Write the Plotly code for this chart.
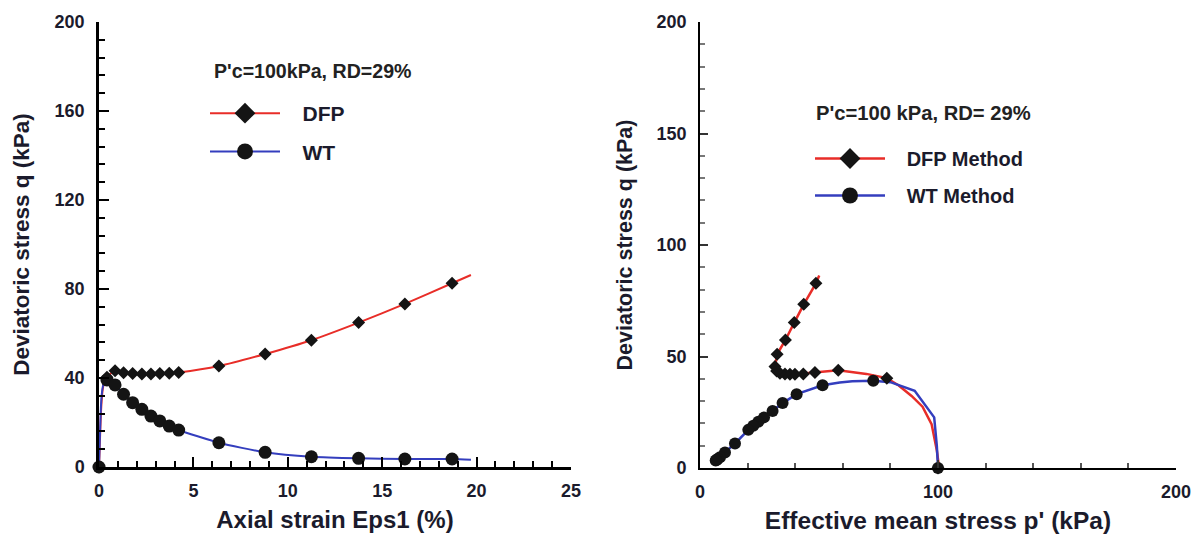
import plotly.graph_objects as go

# ---------------- Data: left panel (q vs axial strain) ----------------
strain_markers = [0, 0.42, 0.85, 1.3, 1.78, 2.27, 2.75, 3.22, 3.72, 4.22,
                  6.35, 8.8, 11.25, 13.75, 16.2, 18.7]
q_dfp_markers = [0, 40.3, 43.3, 42.4, 42.0, 41.8, 41.8, 42.0, 42.1, 42.5,
                 45.4, 50.8, 57.0, 64.9, 73.3, 82.6]
q_wt_markers = [0, 39.1, 36.9, 32.7, 28.9, 25.9, 22.9, 20.7, 18.4, 16.6,
                10.9, 6.6, 4.6, 3.9, 3.6, 3.6]

strain_curve = [0, 0.05, 0.12, 0.2, 0.3, 0.42, 0.85, 1.3, 1.78, 2.27, 2.75,
                3.22, 3.72, 4.22, 6.35, 8.8, 11.25, 13.75, 16.2, 18.7, 19.7]
q_dfp_curve = [0, 12, 27, 35, 38.8, 40.3, 43.3, 42.4, 42.0, 41.8, 41.8,
               42.0, 42.1, 42.5, 45.4, 50.8, 57.0, 64.9, 73.3, 82.6, 86.3]
q_wt_curve = [0, 14, 30, 36, 38.6, 39.1, 36.9, 32.7, 28.9, 25.9, 22.9,
              20.7, 18.4, 16.6, 10.9, 6.6, 4.6, 3.9, 3.6, 3.6, 3.3]

# ---------------- Data: right panel (q vs p') ----------------
p_dfp_markers = [100, 78.5, 58.1, 48.3, 43.4, 39.9, 37.8, 35.7, 33.6, 32.2,
                 31.5, 32.4, 35.9, 39.6, 43.6, 48.7]
qr_dfp_markers = [0, 40.3, 43.8, 42.8, 42.1, 42.0, 42.0, 42.1, 42.5, 43.5,
                  45.5, 51.0, 57.4, 65.2, 73.4, 82.8]
p_dfp_curve = [100.5, 99.5, 97.3, 93.5, 88.9, 83.5, 78.5, 69.9, 58.1, 48.3,
               43.4, 39.9, 37.8, 35.7, 33.6, 32.2, 31.5, 32.4, 35.9, 39.6,
               43.6, 48.7, 50.1]
qr_dfp_curve = [0, 8, 19.7, 27.5, 32.3, 37.0, 40.3, 42.2, 43.8, 42.8,
                42.1, 42.0, 42.0, 42.1, 42.5, 43.5, 45.5, 51.0, 57.4, 65.2,
                73.4, 82.8, 86.3]

p_wt_markers = [100, 72.8, 51.5, 40.6, 34.7, 30.5, 26.9, 24.5, 22.4, 20.3,
                14.7, 10.5, 8.4, 7.4, 6.9, 6.6]
qr_wt_markers = [0, 39.1, 37.1, 33.1, 29.1, 25.6, 22.7, 20.7, 18.9, 17.1,
                 11.0, 7.0, 4.8, 4.0, 3.6, 3.4]
p_wt_curve = [100, 99.5, 98.4, 90.2, 80.0, 72.8, 64.0, 58.7, 51.5, 40.6,
              34.7, 30.5, 26.9, 24.5, 22.4, 20.3, 14.7, 10.5, 8.4, 7.4,
              6.9, 6.6]
qr_wt_curve = [0, 10, 22.7, 34.6, 38.5, 39.1, 38.9, 38.3, 37.1, 33.1,
               29.1, 25.6, 22.7, 20.7, 18.9, 17.1, 11.0, 7.0, 4.8, 4.0,
               3.6, 3.4]

# ---------------- Text ----------------
left_caption = "P'c=100kPa, RD=29%"
right_caption = "P'c=100 kPa, RD= 29%"
left_names = ["DFP", "WT"]
right_names = ["DFP Method", "WT Method"]

RED = "rgb(232,45,40)"
BLUE = "rgb(52,62,190)"
MK = "#141414"
FONT = "Liberation Sans"
TXT = "#1b1b2c"
NB = "\u00a0\u00a0\u00a0"

fig = go.Figure()

# left panel curves
fig.add_trace(go.Scatter(x=strain_curve, y=q_dfp_curve, mode="lines",
                         line=dict(color=RED, width=2, shape="spline", smoothing=0.6),
                         showlegend=False, xaxis="x", yaxis="y", hoverinfo="skip"))
fig.add_trace(go.Scatter(x=strain_curve, y=q_wt_curve, mode="lines",
                         line=dict(color=BLUE, width=2, shape="spline", smoothing=0.6),
                         showlegend=False, xaxis="x", yaxis="y", hoverinfo="skip"))
fig.add_trace(go.Scatter(x=strain_markers, y=q_dfp_markers, mode="markers",
                         marker=dict(symbol="diamond", size=10, color=MK),
                         showlegend=False, xaxis="x", yaxis="y", cliponaxis=False))
fig.add_trace(go.Scatter(x=strain_markers, y=q_wt_markers, mode="markers",
                         marker=dict(symbol="circle", size=13, color=MK),
                         showlegend=False, xaxis="x", yaxis="y", cliponaxis=False))
# left legend entries
fig.add_trace(go.Scatter(x=[None], y=[None], mode="lines+markers",
                         name=NB + "<b>" + left_names[0] + "</b>",
                         line=dict(color=RED, width=2),
                         marker=dict(symbol="diamond", size=16, color=MK),
                         legend="legend", legendgroup="a", xaxis="x", yaxis="y"))
fig.add_trace(go.Scatter(x=[None], y=[None], mode="lines+markers",
                         name=NB + "<b>" + left_names[1] + "</b>",
                         line=dict(color=BLUE, width=2),
                         marker=dict(symbol="circle", size=16, color=MK),
                         legend="legend", legendgroup="b", xaxis="x", yaxis="y"))

# right panel curves
fig.add_trace(go.Scatter(x=p_dfp_curve, y=qr_dfp_curve, mode="lines",
                         line=dict(color=RED, width=2.5),
                         showlegend=False, xaxis="x2", yaxis="y2", hoverinfo="skip"))
fig.add_trace(go.Scatter(x=p_wt_curve, y=qr_wt_curve, mode="lines",
                         line=dict(color=BLUE, width=2.5),
                         showlegend=False, xaxis="x2", yaxis="y2", hoverinfo="skip"))
fig.add_trace(go.Scatter(x=p_dfp_markers, y=qr_dfp_markers, mode="markers",
                         marker=dict(symbol="diamond", size=10, color=MK),
                         showlegend=False, xaxis="x2", yaxis="y2", cliponaxis=False))
fig.add_trace(go.Scatter(x=p_wt_markers, y=qr_wt_markers, mode="markers",
                         marker=dict(symbol="circle", size=12, color=MK),
                         showlegend=False, xaxis="x2", yaxis="y2", cliponaxis=False))
fig.add_trace(go.Scatter(x=[None], y=[None], mode="lines+markers",
                         name=NB + "<b>" + right_names[0] + "</b>",
                         line=dict(color=RED, width=2.5),
                         marker=dict(symbol="diamond", size=16, color=MK),
                         legend="legend2", legendgroup="c", xaxis="x2", yaxis="y2"))
fig.add_trace(go.Scatter(x=[None], y=[None], mode="lines+markers",
                         name=NB + "<b>" + right_names[1] + "</b>",
                         line=dict(color=BLUE, width=2.5),
                         marker=dict(symbol="circle", size=16, color=MK),
                         legend="legend2", legendgroup="d", xaxis="x2", yaxis="y2"))

W, H = 1201, 537
def fx(px):
    return px / W
def fy(py):
    return 1 - py / H

tickfont = dict(family=FONT, size=18, color=TXT)

def axis_common(linew, tickcolor, ticklen, tickw):
    return dict(showgrid=False, zeroline=False, showline=True, linecolor="black",
                linewidth=linew, ticks="inside", ticklen=ticklen, tickwidth=tickw,
                tickcolor=tickcolor, tickfont=tickfont, automargin=False,
                mirror=False, tickprefix="<b>", ticksuffix="</b>")

fig.update_layout(
    width=W, height=H, margin=dict(l=0, r=0, t=0, b=0),
    paper_bgcolor="white", plot_bgcolor="white",
    font=dict(family=FONT, color=TXT),
    xaxis=dict(domain=[fx(99), fx(571)], range=[0, 25], dtick=5, tick0=0,
               anchor="y",
               minor=dict(dtick=1, ticks="inside", ticklen=6, tickwidth=2, tickcolor="black"),
               title=dict(text="<b>Axial strain Eps1 (%)</b>",
                          font=dict(family=FONT, size=24, color=TXT), standoff=11),
               ticklabelstandoff=6,
               **axis_common(2.5, "black", 10, 2)),
    yaxis=dict(domain=[fy(467), fy(22)], range=[0, 200], dtick=40, tick0=0,
               anchor="x",
               minor=dict(dtick=8, ticks="inside", ticklen=6, tickwidth=2, tickcolor="black"),
               title=dict(text="<b>Deviatoric stress q (kPa)</b>",
                         font=dict(family=FONT, size=22.5, color=TXT), standoff=19),
               ticklabelstandoff=8,
               **axis_common(2.5, "black", 10, 2)),
    xaxis2=dict(domain=[fx(700), fx(1176)], range=[0, 200], dtick=100, tick0=0,
                anchor="y2",
                minor=dict(dtick=20, ticks="inside", ticklen=5, tickwidth=1.5, tickcolor="#555"),
                title=dict(text="<b>Effective mean stress p' (kPa)</b>",
                           font=dict(family=FONT, size=24.5, color=TXT), standoff=11),
                ticklabelstandoff=6,
                **axis_common(1.8, "#333", 8, 1.5)),
    yaxis2=dict(domain=[fy(468), fy(22)], range=[0, 200], dtick=50, tick0=0,
                anchor="x2",
                minor=dict(dtick=10, ticks="inside", ticklen=5, tickwidth=1.5, tickcolor="#777"),
                title=dict(text="<b>Deviatoric stress q (kPa)</b>",
                           font=dict(family=FONT, size=21.5, color=TXT), standoff=18),
                ticklabelstandoff=8,
                **axis_common(1.8, "#333", 8, 1.5)),
    legend=dict(x=fx(205), y=fy(93), xanchor="left", yanchor="top",
                bgcolor="rgba(0,0,0,0)", itemwidth=70, tracegroupgap=8,
                font=dict(family=FONT, size=21, color=TXT),
                itemclick=False, itemdoubleclick=False),
    legend2=dict(x=fx(810), y=fy(139), xanchor="left", yanchor="top",
                 bgcolor="rgba(0,0,0,0)", itemwidth=70, tracegroupgap=8,
                 font=dict(family=FONT, size=20, color=TXT),
                 itemclick=False, itemdoubleclick=False),
    annotations=[
        dict(text="<b>" + left_caption + "</b>", xref="paper", yref="paper",
             x=fx(212), y=fy(71), xanchor="left", yanchor="middle", showarrow=False,
             font=dict(family=FONT, size=19.6, color="#222")),
        dict(text="<b>" + right_caption + "</b>", xref="paper", yref="paper",
             x=fx(814), y=fy(113), xanchor="left", yanchor="middle", showarrow=False,
             font=dict(family=FONT, size=20.2, color="#222")),
    ],
)

fig.write_html("out.html")
